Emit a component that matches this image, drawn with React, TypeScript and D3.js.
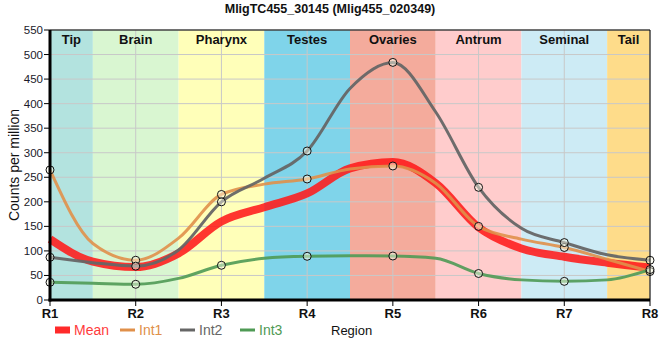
import React from "react";
import * as d3 from "d3";

const regions = ["R1", "R2", "R3", "R4", "R5", "R6", "R7", "R8"];
// line samples at every region centre and every region boundary (R1, R1|R2, R2, ...)
const samplePos = [0, 0.5, 1, 1.5, 2, 2.5, 3, 3.5, 4, 4.5, 5, 5.5, 6, 6.5, 7];
const meanLine = [124, 78, 67, 95, 160, 189, 217, 268, 281, 238, 148, 105, 88, 76, 66];
const int1Line = [265, 115, 81, 126, 215, 236, 246.5, 267, 273, 238, 150, 124, 107, 83, 58];
const int2Line = [87, 76, 69, 102, 200, 248, 303.5, 431, 484, 383, 229.5, 146, 117, 92, 81];
const int3Line = [36, 34, 32, 44, 70.7, 85, 89, 90, 89.6, 85, 54, 41, 38, 41, 62];
const yTicks = [0, 50, 100, 150, 200, 250, 300, 350, 400, 450, 500, 550];
const bandNames = ["Tip", "Brain", "Pharynx", "Testes", "Ovaries", "Antrum", "Seminal", "Tail"];
const bandStarts = [0, 0.5, 1.5, 2.5, 3.5, 4.5, 5.5, 6.5];
const bandEnds = [0.5, 1.5, 2.5, 3.5, 4.5, 5.5, 6.5, 7];
const bandColors = ["#b3e3df", "#d9f6d1", "#ffffb9", "#7fd4ea", "#f4ab9c", "#ffcccc", "#cdebf5", "#fedc8a"];

const W = 660, H = 360;
const L = 50, R = 650, T = 30, B = 300;
const FONT = "Arial, 'Liberation Sans', sans-serif";

export default function App() {
  const x = d3.scaleLinear().domain([0, 7]).range([L, R]);
  const y = d3.scaleLinear().domain([0, 550]).range([B, T]);
  const line = d3
    .line<number>()
    .x((_, i) => x(samplePos[i]))
    .y((d) => y(d))
    .curve(d3.curveMonotoneX);

  const series = [
    { name: "Int1", vals: int1Line, color: "#e0904a", w: 3, op: 0.9 },
    { name: "Int2", vals: int2Line, color: "#666666", w: 3, op: 0.95 },
    { name: "Int3", vals: int3Line, color: "#4f9a55", w: 3, op: 0.9 },
  ];

  return (
    <svg width={W} height={H} style={{ position: "absolute", left: 0, top: 0 }} fontFamily={FONT}>
      <rect x={0} y={0} width={W} height={H} fill="#fff" />
      <text x={330} y={13} textAnchor="middle" fontSize={12.5} fontWeight="bold" fill="#111">
        MligTC455_30145 (Mlig455_020349)
      </text>
      {bandNames.map((n, i) => (
        <rect key={n} x={x(bandStarts[i])} y={T} width={x(bandEnds[i]) - x(bandStarts[i])} height={B - T} fill={bandColors[i]} />
      ))}
      {yTicks.map((t) => (
        <line key={"g" + t} x1={L} x2={R} y1={y(t)} y2={y(t)} stroke="#c8c8c8" strokeWidth={1} />
      ))}
      {regions.map((r, i) => (
        <line key={"v" + r} x1={x(i)} x2={x(i)} y1={T} y2={B} stroke="#c8c8c8" strokeWidth={1} />
      ))}
      {bandNames.map((n, i) => (
        <text key={"t" + n} x={(x(bandStarts[i]) + x(bandEnds[i])) / 2} y={44} textAnchor="middle" fontSize={13} fontWeight="bold" fill="#111">
          {n}
        </text>
      ))}
      <path d={line(meanLine) || ""} fill="none" stroke="#ff1a1a" strokeOpacity={0.88} strokeWidth={8} strokeLinecap="butt" />
      {series.map((s) => (
        <path key={s.name} d={line(s.vals) || ""} fill="none" stroke={s.color} strokeOpacity={s.op} strokeWidth={s.w} />
      ))}
      {series.map((s) =>
        s.vals.map((v, i) =>
          Number.isInteger(samplePos[i]) ? (
            <circle key={s.name + i} cx={x(samplePos[i])} cy={y(v)} r={4} fill="rgba(255,255,235,0.45)" stroke="#111" strokeWidth={1} />
          ) : null
        )
      )}
      <line x1={L} x2={R} y1={T} y2={T} stroke="#000" strokeWidth={1} />
      <line x1={R} x2={R} y1={T} y2={B} stroke="#000" strokeWidth={1} />
      <line x1={L} x2={L} y1={T} y2={B + 1.5} stroke="#000" strokeWidth={3} />
      <line x1={L - 1.5} x2={R} y1={B} y2={B} stroke="#000" strokeWidth={3} />
      {yTicks.map((t) => (
        <g key={"yt" + t}>
          <line x1={L - 6} x2={L} y1={y(t)} y2={y(t)} stroke="#000" strokeWidth={1} />
          <text x={L - 7} y={y(t) + 4} textAnchor="end" fontSize={11.5} fill="#1a1a2a">
            {t}
          </text>
        </g>
      ))}
      {regions.map((r, i) => (
        <g key={"xt" + r}>
          <line x1={x(i)} x2={x(i)} y1={B} y2={B + 6} stroke="#000" strokeWidth={1} />
          <text x={x(i)} y={B + 18} textAnchor="middle" fontSize={13} fontWeight="bold" fill="#111">
            {r}
          </text>
        </g>
      ))}
      <text transform={`translate(19,${(T + B) / 2}) rotate(-90)`} textAnchor="middle" fontSize={14} fill="#111">
        Counts per million
      </text>
      <text x={331} y={335} fontSize={13} fill="#111">
        Region
      </text>
      <rect x={55} y={326.5} width={15} height={7} fill="#ff2a2a" />
      <text x={74} y={335} fontSize={14} fill="#ff3b3b">Mean</text>
      <line x1={120} x2={135} y1={330} y2={330} stroke="#e0904a" strokeWidth={3} />
      <text x={139} y={335} fontSize={14} fill="#e0904a">Int1</text>
      <line x1={180} x2={195} y1={330} y2={330} stroke="#666" strokeWidth={3} />
      <text x={199} y={335} fontSize={14} fill="#666">Int2</text>
      <line x1={240} x2={255} y1={330} y2={330} stroke="#4f9a55" strokeWidth={3} />
      <text x={259} y={335} fontSize={14} fill="#4f9a55">Int3</text>
    </svg>
  );
}
